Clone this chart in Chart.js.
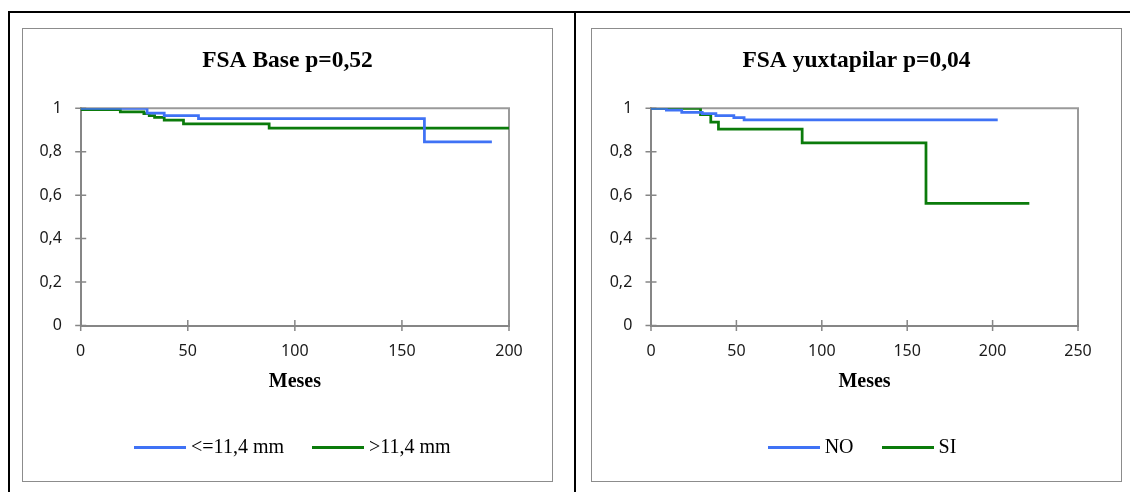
<!DOCTYPE html>
<html lang="es">
<head>
<meta charset="utf-8">
<title>FSA</title>
<script src="https://cdn.jsdelivr.net/npm/chart.js@4.4.1/dist/chart.umd.min.js"></script>
<style>
  html, body { margin: 0; padding: 0; background: #fff; }
  body { width: 1130px; height: 492px; position: relative; overflow: hidden; }
  .linea { position: absolute; background: #000; }
  .caja { position: absolute; top: 28px; width: 531px; height: 454px; border: 1px solid #8c8c8c; box-sizing: border-box; background: #fff; }
  .caja canvas { display: block; }
</style>
</head>
<body>
<div class="linea" style="left:8px; top:11px; width:1122px; height:2px"></div>
<div class="linea" style="left:8px; top:11px; width:2px; height:481px"></div>
<div class="linea" style="left:574px; top:11px; width:2px; height:481px"></div>
<div class="caja" style="left:22px"><canvas id="fsaBase" width="529" height="452"></canvas></div>
<div class="caja" style="left:591px"><canvas id="fsaYux" width="529" height="452"></canvas></div>

<script>
var AZUL = '#3f72f5';
var VERDE = '#0b7b0b';
var SERIF = '"Liberation Serif", "Times New Roman", serif';

// FSA Base: espesor <=11,4 mm / >11,4 mm
var baseEtiquetas = ['<=11,4 mm', '>11,4 mm'];
var baseMesesMenor = [0, 31, 39, 55, 160.5, 192];
var baseSupMenor   = [1, 0.978, 0.966, 0.952, 0.845, 0.845];
var baseMesesMayor = [0, 0.5, 18.5, 29.5, 32, 34.5, 39, 48, 88, 201];
var baseSupMayor   = [1, 0.994, 0.983, 0.975, 0.966, 0.958, 0.945, 0.928, 0.909, 0.909];

// FSA yuxtapilar: NO / SI
var yuxEtiquetas = ['NO', 'SI'];
var yuxMesesNo = [0, 9, 18, 30, 38, 48.5, 54.5, 203];
var yuxSupNo   = [1, 0.992, 0.981, 0.975, 0.966, 0.957, 0.947, 0.947];
var yuxMesesSi = [0, 29, 35, 39.5, 88.5, 161, 221.5];
var yuxSupSi   = [1, 0.971, 0.936, 0.904, 0.841, 0.562, 0.562];

var ticksY = [0, 0.2, 0.4, 0.6, 0.8, 1];

function puntos(meses, sup) {
    return meses.map(function (m, i) { return { x: m, y: sup[i] }; });
}

// muestra de linea para la leyenda
function muestraLinea(color) {
    var c = document.createElement('canvas');
    c.width = 52;
    c.height = 3;
    var g = c.getContext('2d');
    g.fillStyle = color;
    g.fillRect(0, 0, 52, 3);
    return c;
}

// marco superior/derecho y marcas en cruz sobre los ejes
var marcoYMarcas = {
    id: 'marcoYMarcas',
    beforeDatasetsDraw: function (chart) {
        var ctx = chart.ctx, a = chart.chartArea;
        var sx = chart.scales.x, sy = chart.scales.y;
        ctx.save();
        ctx.strokeStyle = '#9a9a9a';
        ctx.lineWidth = 2;
        ctx.beginPath();
        ctx.moveTo(a.left, a.top);
        ctx.lineTo(a.right, a.top);
        ctx.lineTo(a.right, a.bottom);
        ctx.stroke();
        ctx.strokeStyle = '#868686';
        ctx.lineWidth = 1.5;
        ctx.beginPath();
        sx.ticks.forEach(function (t) {
            var px = sx.getPixelForValue(t.value);
            ctx.moveTo(px, a.bottom - 5.5);
            ctx.lineTo(px, a.bottom + 5.5);
        });
        sy.ticks.forEach(function (t) {
            var py = sy.getPixelForValue(t.value);
            ctx.moveTo(a.left - 5.5, py);
            ctx.lineTo(a.left + 5.5, py);
        });
        ctx.stroke();
        ctx.restore();
    }
};

function grafico(id, titulo, etiquetas, series, xMax, anchoEjeY) {
    var colores = [AZUL, VERDE];
    return new Chart(document.getElementById(id), {
        type: 'line',
        data: {
            datasets: series.map(function (s, i) {
                return {
                    label: etiquetas[i],
                    data: s,
                    borderColor: colores[i],
                    backgroundColor: colores[i],
                    borderWidth: 2.75,
                    pointRadius: 0,
                    stepped: 'before',
                    fill: false
                };
            })
        },
        options: {
            responsive: false,
            animation: false,
            devicePixelRatio: 1,
            events: [],
            layout: { padding: { left: 0, right: 0, top: 0, bottom: 13.5 } },
            scales: {
                x: {
                    type: 'linear',
                    min: 0,
                    max: xMax,
                    afterFit: function (s) { s.height = 79; },
                    grid: { display: false, drawTicks: false },
                    border: { display: true, color: '#868686', width: 2 },
                    ticks: {
                        stepSize: 50,
                        padding: 16,
                        maxRotation: 0,
                        autoSkip: false,
                        color: '#1a1a1a',
                        font: { family: '"Noto Sans"', size: 16 }
                    },
                    title: {
                        display: true,
                        text: 'Meses',
                        color: '#000',
                        font: { family: SERIF, size: 20, weight: 'bold' },
                        padding: { top: 7.5, bottom: 10.5 }
                    }
                },
                y: {
                    min: 0,
                    max: 1,
                    afterBuildTicks: function (s) {
                        s.ticks = ticksY.map(function (v) { return { value: v }; });
                    },
                    afterFit: function (s) { s.width = anchoEjeY; },
                    grid: { display: false, drawTicks: false },
                    border: { display: true, color: '#868686', width: 2 },
                    ticks: {
                        padding: 18.7,
                        color: '#1a1a1a',
                        font: { family: '"Noto Sans"', size: 16 },
                        callback: function (v) {
                            return String(Number(v.toFixed(1))).replace('.', ',');
                        }
                    }
                },
                // margen derecho del area de trazado
                margenDer: {
                    type: 'linear',
                    position: 'right',
                    display: true,
                    afterFit: function (s) { s.width = 43; },
                    grid: { display: false, drawTicks: false },
                    border: { display: false },
                    ticks: { display: false }
                }
            },
            plugins: {
                tooltip: { enabled: false },
                title: {
                    display: true,
                    text: titulo,
                    color: '#000',
                    font: { family: SERIF, size: 23.5, weight: 'bold' },
                    padding: { top: 18, bottom: 33.1 }
                },
                legend: {
                    position: 'bottom',
                    fullSize: false,
                    labels: {
                        usePointStyle: true,
                        pointStyleWidth: 42,
                        padding: 33,
                        color: '#000',
                        font: { family: SERIF, size: 20 },
                        generateLabels: function (chart) {
                            return chart.data.datasets.map(function (ds, i) {
                                return {
                                    text: ds.label,
                                    pointStyle: muestraLinea(ds.borderColor),
                                    fillStyle: ds.borderColor,
                                    strokeStyle: ds.borderColor,
                                    lineWidth: 0,
                                    fontColor: '#000',
                                    hidden: false,
                                    datasetIndex: i
                                };
                            });
                        }
                    }
                }
            }
        },
        plugins: [marcoYMarcas]
    });
}

grafico('fsaBase', 'FSA Base p=0,52', baseEtiquetas,
    [puntos(baseMesesMenor, baseSupMenor), puntos(baseMesesMayor, baseSupMayor)], 200, 57.7);
grafico('fsaYux', 'FSA yuxtapilar p=0,04', yuxEtiquetas,
    [puntos(yuxMesesNo, yuxSupNo), puntos(yuxMesesSi, yuxSupSi)], 250, 59);
</script>
</body>
</html>
